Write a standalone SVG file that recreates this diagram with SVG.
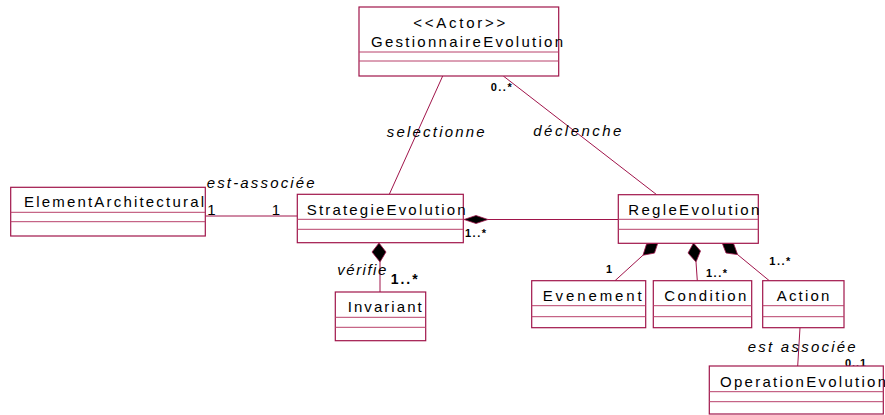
<svg xmlns="http://www.w3.org/2000/svg" width="885" height="415" viewBox="0 0 885 415">
<style>
.box{fill:#fff;stroke:#a0144a;stroke-width:1.2}
.div{stroke:#b8406a;stroke-width:1}
.con{stroke:#a0144a;stroke-width:1;fill:none}
.dia{fill:#000;stroke:#a0144a;stroke-width:0.8}
.name{font-family:"Liberation Sans",Arial,sans-serif;font-size:15px;fill:#000}
.lab{font-family:"Liberation Sans",Arial,sans-serif;font-size:15px;font-style:italic;fill:#000}
.m{font-family:"Liberation Sans",Arial,sans-serif;font-size:11px;font-weight:bold;fill:#000}
</style>
<g id="connectors">
<line class="con" x1="442.7" y1="76" x2="389.3" y2="194.3"/>
<line class="con" x1="503.3" y1="76" x2="656.7" y2="194.7"/>
<line class="con" x1="205.3" y1="216" x2="297" y2="216"/>
<line class="con" x1="488" y1="219.5" x2="618.3" y2="219.5"/>
<polygon class="dia" points="464,219.5 476,215.5 488,219.5 476,223.5"/>
<line class="con" x1="380" y1="262" x2="380" y2="292"/>
<polygon class="dia" points="379,243 386,252 380,262 372,252"/>
<line class="con" x1="643" y1="255.2" x2="615" y2="280.7"/>
<polygon class="dia" points="658,242.5 654.5,253.1 643,255.2 646.5,244.1"/>
<line class="con" x1="696" y1="262" x2="697.3" y2="280.7"/>
<polygon class="dia" points="693.5,243 700.5,251 696,262 688,253"/>
<line class="con" x1="737.6" y1="254.6" x2="769.3" y2="280.7"/>
<polygon class="dia" points="722,242.5 733.6,243.6 737.6,254.6 726,253"/>
<line class="con" x1="800" y1="327.7" x2="797.7" y2="366"/>
<text class="lab" x="386.7" y="136.7" textLength="98" lengthAdjust="spacing">selectionne</text>
<text class="lab" x="533.3" y="136" textLength="88" lengthAdjust="spacing">déclenche</text>
<text class="lab" x="206.7" y="188" textLength="108" lengthAdjust="spacing">est-associée</text>
<text class="lab" x="337.3" y="275" textLength="49" lengthAdjust="spacing">vérifie</text>
<text class="lab" x="747.7" y="351.7" textLength="108" lengthAdjust="spacing">est associée</text>
<text class="name" x="207.3" y="215">1</text>
<text class="name" x="271.7" y="215">1</text>
<text class="m" x="490.7" y="90.7" textLength="21" lengthAdjust="spacing">0..*</text>
<text class="m" x="465" y="236.7" textLength="21" lengthAdjust="spacing">1..*</text>
<text class="m" x="390.7" y="284.3" style="font-size:14px" textLength="27" lengthAdjust="spacing">1..*</text>
<text class="m" x="606" y="272.7">1</text>
<text class="m" x="706" y="276.7" textLength="21" lengthAdjust="spacing">1..*</text>
<text class="m" x="769.3" y="265" textLength="21" lengthAdjust="spacing">1..*</text>
<text class="m" x="845" y="366.7" textLength="21" lengthAdjust="spacing">0..1</text>
</g>
<g id="GestionnaireEvolution">
<rect class="box" x="359" y="7" width="199.7" height="69"/>
<line class="div" x1="359" y1="52" x2="558.7" y2="52"/>
<line class="div" x1="359" y1="61" x2="558.7" y2="61"/>
<text class="name" x="413.3" y="28" textLength="92" lengthAdjust="spacing">&lt;&lt;Actor&gt;&gt;</text>
<text class="name" x="371" y="46.5" textLength="192" lengthAdjust="spacing">GestionnaireEvolution</text>
</g>
<g id="ElementArchitectural">
<rect class="box" x="10.7" y="187.3" width="194.6" height="48.7"/>
<line class="div" x1="10.7" y1="212.3" x2="205.3" y2="212.3"/>
<line class="div" x1="10.7" y1="221.7" x2="205.3" y2="221.7"/>
<text class="name" x="24" y="207" textLength="180" lengthAdjust="spacing">ElementArchitectural</text>
</g>
<g id="StrategieEvolution">
<rect class="box" x="297.3" y="194.3" width="166" height="48.4"/>
<line class="div" x1="297.3" y1="219.3" x2="463.3" y2="219.3"/>
<line class="div" x1="297.3" y1="229.3" x2="463.3" y2="229.3"/>
<text class="name" x="306.7" y="215" textLength="159" lengthAdjust="spacing">StrategieEvolution</text>
</g>
<g id="RegleEvolution">
<rect class="box" x="618.3" y="194.7" width="140" height="48.6"/>
<line class="div" x1="618.3" y1="219.3" x2="758.3" y2="219.3"/>
<line class="div" x1="618.3" y1="229.3" x2="758.3" y2="229.3"/>
<text class="name" x="628.3" y="215" textLength="131" lengthAdjust="spacing">RegleEvolution</text>
</g>
<g id="Invariant">
<rect class="box" x="335.3" y="292" width="90.4" height="48.7"/>
<line class="div" x1="335.3" y1="317.3" x2="425.7" y2="317.3"/>
<line class="div" x1="335.3" y1="327.3" x2="425.7" y2="327.3"/>
<text class="name" x="347.7" y="311.7" textLength="74" lengthAdjust="spacing">Invariant</text>
</g>
<g id="Evenement">
<rect class="box" x="531.7" y="280.7" width="114" height="47"/>
<line class="div" x1="531.7" y1="305.7" x2="645.7" y2="305.7"/>
<line class="div" x1="531.7" y1="316.7" x2="645.7" y2="316.7"/>
<text class="name" x="542.7" y="300.7" textLength="99" lengthAdjust="spacing">Evenement</text>
</g>
<g id="Condition">
<rect class="box" x="653.3" y="280.7" width="98.4" height="47"/>
<line class="div" x1="653.3" y1="305.7" x2="751.7" y2="305.7"/>
<line class="div" x1="653.3" y1="316.7" x2="751.7" y2="316.7"/>
<text class="name" x="664.3" y="300.7" textLength="82" lengthAdjust="spacing">Condition</text>
</g>
<g id="Action">
<rect class="box" x="762.7" y="280.7" width="81.3" height="47"/>
<line class="div" x1="762.7" y1="305.7" x2="844" y2="305.7"/>
<line class="div" x1="762.7" y1="316.7" x2="844" y2="316.7"/>
<text class="name" x="776.7" y="300.7" textLength="52.6" lengthAdjust="spacing">Action</text>
</g>
<g id="OperationEvolution">
<rect class="box" x="709.3" y="366" width="174" height="48"/>
<line class="div" x1="709.3" y1="391.7" x2="883.3" y2="391.7"/>
<line class="div" x1="709.3" y1="401.7" x2="883.3" y2="401.7"/>
<text class="name" x="720" y="386.7" textLength="166" lengthAdjust="spacing">OperationEvolution</text>
</g>
</svg>
